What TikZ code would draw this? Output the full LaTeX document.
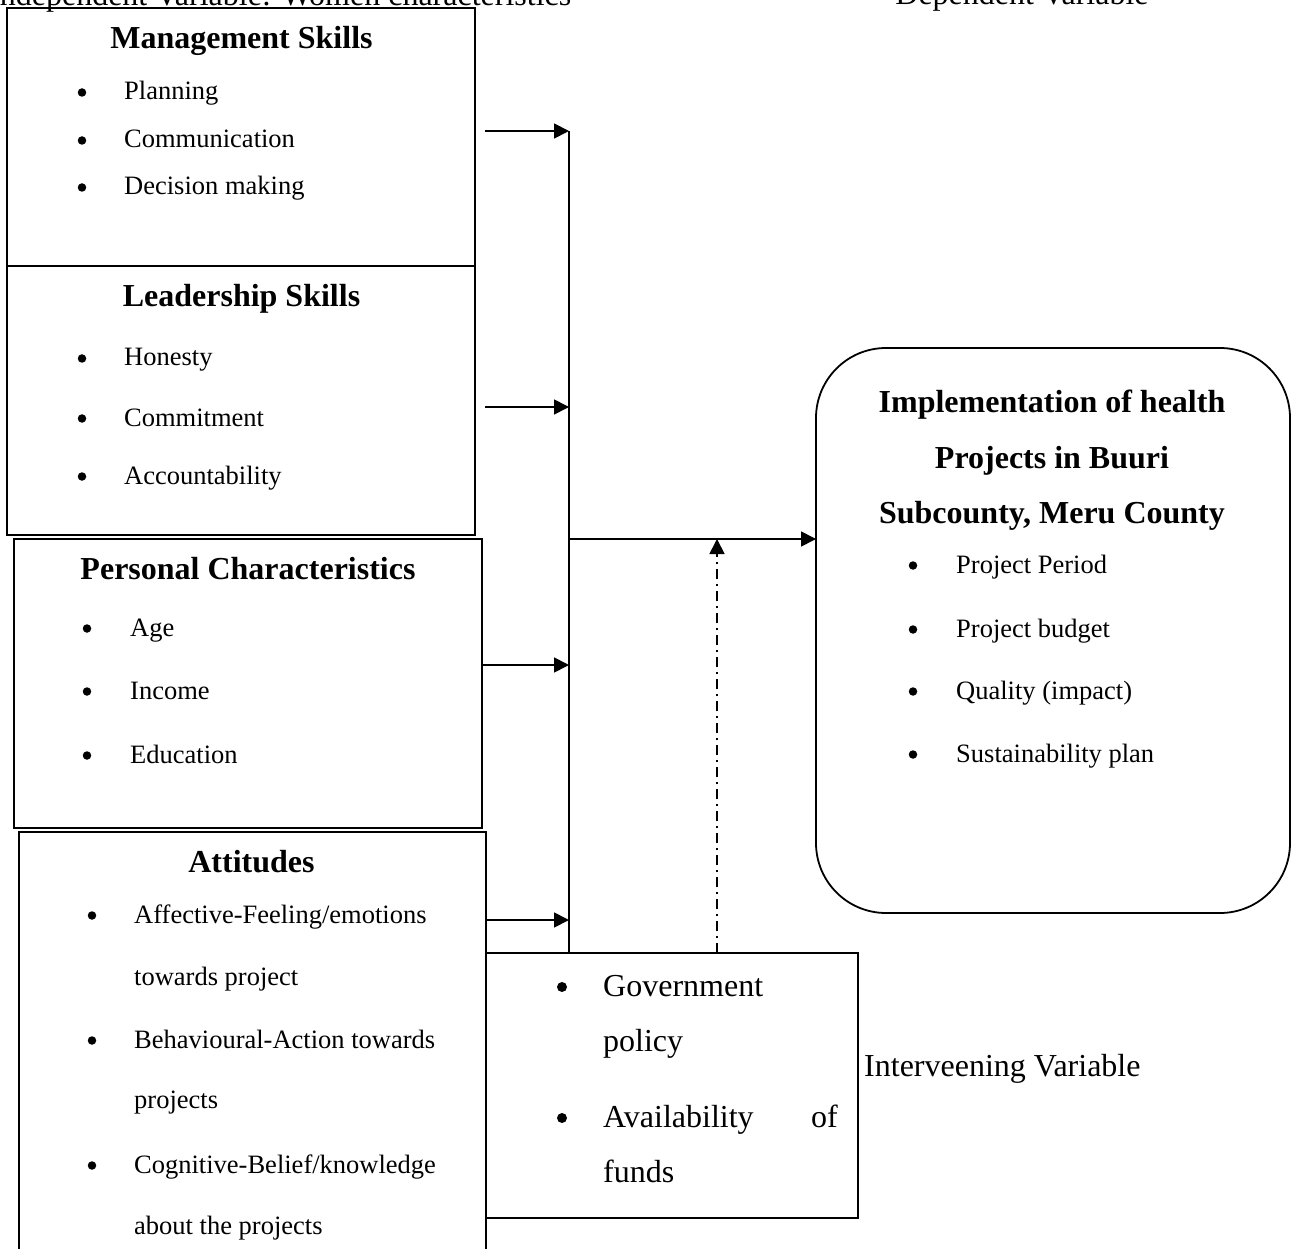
\documentclass[tikz,border=0pt]{standalone}
\usepackage{fontspec}
\setmainfont{Liberation Serif}
\usetikzlibrary{arrows.meta}
\newcommand\myBody{\fontsize{26.5}{30}\selectfont}
\newcommand\myHead{\fontsize{32}{36}\selectfont\bfseries}
\newcommand\myBig{\fontsize{32}{36}\selectfont}
\begin{document}
\begin{tikzpicture}[x=1pt,y=-1pt,
  box/.style={draw, line width=1.8pt, anchor=north west, inner sep=0pt, outer sep=0pt},
  ln/.style={line width=1.8pt},
  arr/.style={line width=1.8pt, -{Triangle[length=15pt,width=15pt]}},
  dashdot/.style={dash pattern=on 10pt off 5pt on 2pt off 5pt},
  txt/.style={anchor=base west, inner sep=0pt, font=\myBody},
  bul/.style={circle, fill, inner sep=0pt, minimum size=8.5pt, yshift=7.5pt},
  btxt/.style={anchor=base west, inner sep=0pt, font=\myBig},
  bbul/.style={circle, fill, inner sep=0pt, minimum size=10pt, yshift=9pt},
  hd/.style={anchor=base, inner sep=0pt, font=\myHead},
  lbl/.style={anchor=base west, inner sep=0pt, font=\myBig}]
\useasboundingbox (0,0) rectangle (1294,1249);
\clip (0,0) rectangle (1294,1249);

% top labels
\node[lbl] (indep) at (-11,6) {Independent Variable: Women characteristics};
\node[lbl, anchor=base] (depl) at (1022,5) {Dependent Variable};

% boxes
\node[box, minimum width=468pt, minimum height=258pt] (ms) at (7,8) {};
\node[box, minimum width=468pt, minimum height=269pt] (ls) at (7,266) {};
\node[box, minimum width=468pt, minimum height=289pt] (pc) at (14,539) {};
\node[box, minimum width=467pt, minimum height=440pt] (at) at (19,832) {};
\node[box, minimum width=372pt, minimum height=265pt] (iv) at (486,953) {};
\node[box, rounded corners=70pt, minimum width=474pt, minimum height=565pt] (dep) at (816,348) {};

% Management skills
\node[hd] (msh) at (241.5,49) {Management Skills};
\node[bul] (msb1) at (82,100) {}; \node[txt] (mst1) at (124,100) {Planning};
\node[bul] (msb2) at (82,148) {}; \node[txt] (mst2) at (124,148) {Communication};
\node[bul] (msb3) at (82,195) {}; \node[txt] (mst3) at (124,195) {Decision making};

% Leadership skills
\node[hd] (lsh) at (241.5,307) {Leadership Skills};
\node[bul] (lsb1) at (82,366) {}; \node[txt] (lst1) at (124,366) {Honesty};
\node[bul] (lsb2) at (82,426) {}; \node[txt] (lst2) at (124,426) {Commitment};
\node[bul] (lsb3) at (82,484) {}; \node[txt] (lst3) at (124,484) {Accountability};

% Personal characteristics
\node[hd] (pch) at (248,579) {Personal Characteristics};
\node[bul] (pcb1) at (87,636) {}; \node[txt] (pct1) at (130,636) {Age};
\node[bul] (pcb2) at (87,699) {}; \node[txt] (pct2) at (130,699) {Income};
\node[bul] (pcb3) at (87,763) {}; \node[txt] (pct3) at (130,763) {Education};

% Attitudes
\node[hd] (ath) at (251.5,872) {Attitudes};
\node[bul] (atb1) at (92,923) {}; \node[txt] (att1) at (134,923) {Affective-Feeling/emotions};
\node[txt] (att1b) at (134,985) {towards project};
\node[bul] (atb2) at (92,1048) {}; \node[txt] (att2) at (134,1048) {Behavioural-Action towards};
\node[txt] (att2b) at (134,1108) {projects};
\node[bul] (atb3) at (92,1173) {}; \node[txt] (att3) at (134,1173) {Cognitive-Belief/knowledge};
\node[txt] (att3b) at (134,1234) {about the projects};

% Intervening
\node[bbul] (ivb1) at (562,996) {}; \node[btxt] (ivt1) at (603,996) {Government};
\node[btxt] (ivt1b) at (603,1051) {policy};
\node[bbul] (ivb2) at (562,1127) {}; \node[btxt] (ivt2) at (603,1127) {Availability};
\node[btxt, anchor=base east] (ivt2o) at (838,1127) {of};
\node[btxt] (ivt2b) at (603,1182) {funds};
\node[lbl] (ivl) at (864,1076) {Interveening Variable};

% Dependent
\node[hd] (dh1) at (1052,413) {Implementation of health};
\node[hd] (dh2) at (1052,468) {Projects in Buuri};
\node[hd] (dh3) at (1052,523) {Subcounty, Meru County};
\node[bul] (db1) at (913,573) {}; \node[txt] (dt1) at (956,573) {Project Period};
\node[bul] (db2) at (913,637) {}; \node[txt] (dt2) at (956,637) {Project budget};
\node[bul] (db3) at (913,699) {}; \node[txt] (dt3) at (956,699) {Quality (impact)};
\node[bul] (db4) at (913,762) {}; \node[txt] (dt4) at (956,762) {Sustainability plan};

% connectors
\coordinate (j1) at (569,131);
\coordinate (j2) at (569,407);
\coordinate (j3) at (569,665);
\coordinate (j4) at (569,920);
\coordinate (jm) at (569,539);
\coordinate (jb) at (569,953);
\coordinate (dtop) at (717,539);
\draw[ln] (j1) -- (jb);
\draw[arr] ([xshift=10pt]ms.east |- j1) -- (j1);
\draw[arr] ([xshift=10pt]ls.east |- j2) -- (j2);
\draw[arr] (pc.east |- j3) -- (j3);
\draw[arr] (at.east |- j4) -- (j4);
\draw[arr] (jm) -- (dep.west |- jm);
\draw[arr, dashdot] (iv.north -| dtop) -- (dtop);
\end{tikzpicture}
\end{document}
